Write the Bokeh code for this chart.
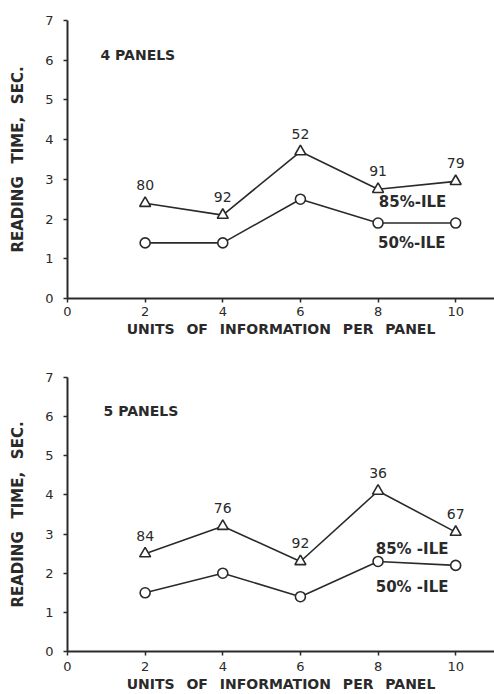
from bokeh.plotting import figure
from bokeh.layouts import column
from bokeh.models import Range1d, FixedTicker
from bokeh.core.properties import value
from bokeh.embed import file_html
from bokeh.resources import INLINE

# ---- data ----
units = [2, 4, 6, 8, 10]
p85_4 = [2.4, 2.1, 3.7, 2.75, 2.95]
p50_4 = [1.4, 1.4, 2.5, 1.9, 1.9]
n_4 = ["80", "92", "52", "91", "79"]
p85_5 = [2.5, 3.2, 2.3, 4.1, 3.05]
p50_5 = [1.5, 2.0, 1.4, 2.3, 2.2]
n_5 = ["84", "76", "92", "36", "67"]
x_ticks = [0, 2, 4, 6, 8, 10]
y_ticks = [0, 1, 2, 3, 4, 5, 6, 7]

FONT = "DejaVu Sans"
INK = "#2a2a2a"
SP = "\u2002"  # en space (does not collapse in SVG)


def panel(title, p85, p50, nums, lab85, lab50, h, top, bottom,
          title_xy, l85_xy, l50_xy, tick_standoff, label_standoff):
    p = figure(width=494, height=h, output_backend="svg", toolbar_location=None,
               x_range=Range1d(0, 11.0), y_range=Range1d(0, 7.0),
               min_border_left=67, min_border_right=0,
               min_border_top=top, min_border_bottom=bottom)
    p.outline_line_color = None
    p.grid.visible = False
    p.background_fill_color = "white"
    p.border_fill_color = "white"

    for ax in (p.xaxis, p.yaxis):
        ax.axis_line_color = INK
        ax.axis_line_width = 2
        ax.major_tick_line_color = INK
        ax.major_tick_line_width = 1.5
        ax.major_tick_in = 0
        ax.major_tick_out = 4
        ax.minor_tick_line_color = None
        ax.major_label_text_font = FONT
        ax.major_label_text_font_size = "13px"
        ax.major_label_text_color = INK
        ax.axis_label_text_font = FONT
        ax.axis_label_text_font_style = "bold"
        ax.axis_label_text_color = INK

    p.xaxis.ticker = FixedTicker(ticks=x_ticks)
    p.yaxis.ticker = FixedTicker(ticks=y_ticks)
    p.xaxis.axis_label = SP.join(["UNITS", "OF", "INFORMATION", "PER", "PANEL"]).replace(SP, " " + SP)
    p.xaxis.axis_label_text_font_size = "14px"
    p.xaxis.major_label_standoff = tick_standoff
    p.xaxis.axis_label_standoff = label_standoff
    p.yaxis.axis_label = "READING" + " " + SP + "TIME," + " " + SP + "SEC."
    p.yaxis.axis_label_text_font_size = "15px"
    p.yaxis.major_label_standoff = 10
    p.yaxis.axis_label_standoff = 15

    p.line(units, p85, line_color=INK, line_width=1.6)
    p.line(units, p50, line_color=INK, line_width=1.6)
    p.scatter(units, p85, marker="triangle", size=11, fill_color="white",
              line_color=INK, line_width=1.6)
    p.scatter(units, p50, marker="circle", size=10, fill_color="white",
              line_color=INK, line_width=1.6)

    p.text(units, p85, text=nums, text_font=value(FONT), text_font_size="14px",
           text_color=INK, text_align="center", text_baseline="middle",
           y_offset=-18)

    p.text([title_xy[0]], [title_xy[1]], text=[title], text_font=value(FONT),
           text_font_size="14px", text_font_style="bold", text_color=INK,
           text_align="left", text_baseline="middle")
    p.text([l85_xy[0]], [l85_xy[1]], text=[lab85], text_font=value(FONT),
           text_font_size="15px", text_font_style="bold", text_color=INK,
           text_align="left", text_baseline="middle")
    p.text([l50_xy[0]], [l50_xy[1]], text=[lab50], text_font=value(FONT),
           text_font_size="15px", text_font_style="bold", text_color=INK,
           text_align="left", text_baseline="middle")
    return p


top_p = panel("4 PANELS", p85_4, p50_4, n_4, "85%-ILE", "50%-ILE",
              340, 20, 42, (0.85, 6.13), (8.02, 2.43), (8.0, 1.4), 4, 2)
bot_p = panel("5 PANELS", p85_5, p50_5, n_5, "85% -ILE", "50% -ILE",
              354, 37, 42, (0.93, 6.15), (7.94, 2.62), (7.94, 1.66), 6, 2)

layout = column(top_p, bot_p)
open("out.html", "w").write(file_html(layout, INLINE))
